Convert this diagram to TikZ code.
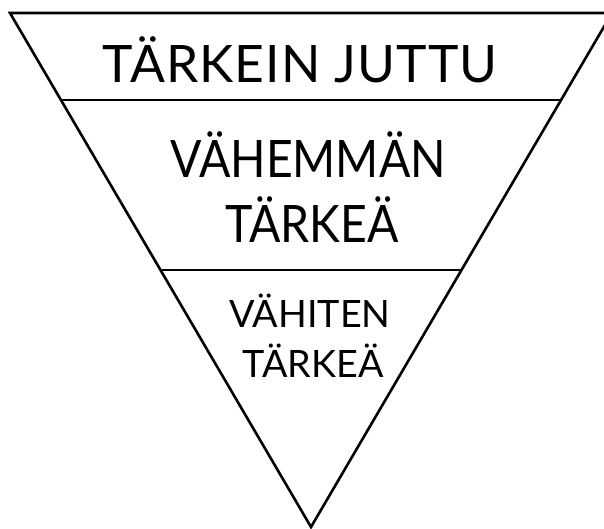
\documentclass[tikz,border=0pt]{standalone}
\usepackage{fontspec}
\setmainfont{Lato}
\begin{document}
\begin{tikzpicture}[x=1pt,y=-1pt,
  edge/.style={line width=2.6pt,line join=miter},
  big/.style={font=\fontsize{51.6}{65}\selectfont,inner sep=0pt,anchor=base},
  narrow/.style={font=\fontsize{51.6}{65}\selectfont\addfontfeatures{FakeStretch=0.9},inner sep=0pt,anchor=base},
  small/.style={font=\fontsize{37.7}{50}\selectfont,inner sep=0pt,anchor=base}]
\useasboundingbox (0,0) rectangle (604,528);
\clip (0,0) rectangle (604,528);
\coordinate (tl) at (10,13);
\coordinate (tr) at (612,13);
\coordinate (apex) at (311,527);
\coordinate (l1) at (60.9,100);
\coordinate (r1) at (561.1,100);
\coordinate (l2) at (160.5,270);
\coordinate (r2) at (461.5,270);
\draw[edge] (tl) -- (tr) -- (apex) -- cycle;
\draw[edge] (l1) -- (r1);
\draw[edge] (l2) -- (r2);
\node[big,font=\fontsize{51.6}{65}\selectfont\addfontfeatures{LetterSpace=2}] (t1) at (300,82) {TÄRKEIN JUTTU};
\node[narrow] (t2a) at (308,177) {VÄHEMMÄN};
\node[narrow] (t2b) at (312,242) {TÄRKEÄ};
\node[small] (t3a) at (310,327) {VÄHITEN};
\node[small] (t3b) at (313,377) {TÄRKEÄ};
\end{tikzpicture}
\end{document}
